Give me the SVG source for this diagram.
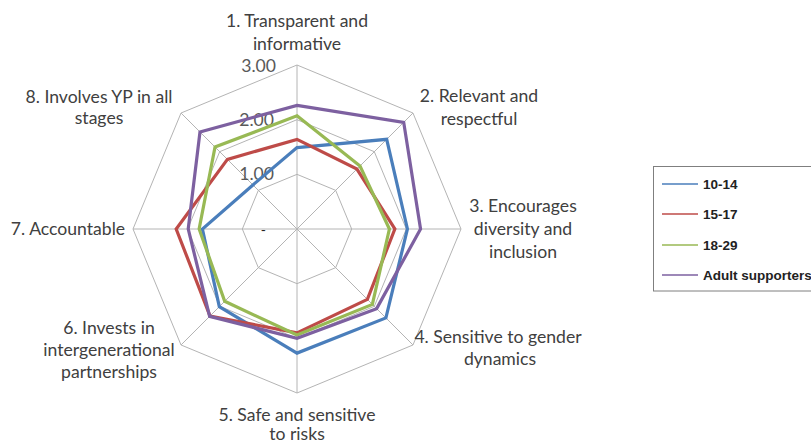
<svg xmlns="http://www.w3.org/2000/svg" width="811" height="444" viewBox="0 0 811 444">
<style>
.grid{fill:none;stroke:#b4b4b4;stroke-width:1}
.ser{fill:none;stroke-width:3.2;stroke-linejoin:miter}
.lab{font-family:Lato,"Liberation Sans",sans-serif;font-size:17.6px;fill:#404040;text-anchor:middle}
.tick{font-family:Lato,"Liberation Sans",sans-serif;font-size:17.6px;fill:#595959;text-anchor:end}
.leg{font-family:"Liberation Sans",Arial,sans-serif;font-size:13.5px;font-weight:bold;fill:#222}
.legl{stroke-width:1.5}
</style>
<rect width="811" height="444" fill="#fff"/>
<g id="grid">
<polygon class="grid" points="297,174.33 335.66,190.34 351.67,229 335.66,267.66 297,283.67 258.34,267.66 242.33,229 258.34,190.34"/>
<polygon class="grid" points="297,119.67 374.31,151.69 406.33,229 374.31,306.31 297,338.33 219.69,306.31 187.67,229 219.69,151.69"/>
<polygon class="grid" points="297,65 412.97,113.03 461,229 412.97,344.97 297,393 181.03,344.97 133,229 181.03,113.03"/>
<path class="grid" d="M297,229L297,65M297,229L412.97,113.03M297,229L461,229M297,229L412.97,344.97M297,229L297,393M297,229L181.03,344.97M297,229L133,229M297,229L181.03,113.03"/>
</g>
<g id="ticks">
<text class="tick" x="276" y="72">3.00</text>
<text class="tick" x="274" y="126">2.00</text>
<text class="tick" x="274" y="180">1.00</text>
<text class="tick" x="266" y="235" style="font-size:14px;fill:#222">-</text>
</g>
<g id="series">
<polygon id="s-10-14" class="ser" stroke="#4a7ebb" points="297,147.54 386.68,139.32 407.43,229 385.91,317.91 297,353.1 219.3,306.7 202.42,229 252.93,184.93"/>
<polygon id="s-15-17" class="ser" stroke="#be4b48" points="297,139.34 356.92,169.08 394.86,229 367.36,299.36 297,332.87 210.02,315.98 176.18,229 227.42,159.42"/>
<polygon id="s-18-29" class="ser" stroke="#98b954" points="297,115.83 360.01,165.99 389.39,229 372.38,304.38 297,335.06 224.71,301.29 199.14,229 215.04,147.04"/>
<polygon id="s-adult" class="ser" stroke="#7d60a0" points="297,105.45 403.7,122.3 420.55,229 376.63,308.63 297,338.34 209.64,316.36 188.21,229 199.97,131.97"/>
</g>
<g id="labels">
<text id="ax1" class="lab" x="297" y="27">1. Transparent and<tspan x="297" y="50">informative</tspan></text>
<text id="ax2" class="lab" x="479" y="102">2. Relevant and<tspan x="479" y="125">respectful</tspan></text>
<text id="ax3" class="lab" x="523" y="212">3. Encourages<tspan x="523" y="235">diversity and</tspan><tspan x="523" y="258">inclusion</tspan></text>
<text id="ax4" class="lab" x="498" y="343">4. Sensitive to gender<tspan x="500" y="365">dynamics</tspan></text>
<text id="ax5" class="lab" x="297" y="421">5. Safe and sensitive<tspan x="297" y="440">to risks</tspan></text>
<text id="ax6" class="lab" x="109" y="334">6. Invests in<tspan x="109" y="356">intergenerational</tspan><tspan x="109" y="378">partnerships</tspan></text>
<text id="ax7" class="lab" x="68" y="235">7. Accountable</text>
<text id="ax8" class="lab" x="99" y="103">8. Involves YP in all<tspan x="99" y="124">stages</tspan></text>
</g>
<g id="legend">
<rect x="653.5" y="166.5" width="170" height="124.5" fill="#fff" stroke="#7f7f7f" stroke-width="1"/>
<line class="legl" x1="662" y1="184" x2="698" y2="184" stroke="#4a7ebb"/>
<text class="leg" x="703" y="189">10-14</text>
<line class="legl" x1="662" y1="214" x2="698" y2="214" stroke="#be4b48"/>
<text class="leg" x="703" y="219">15-17</text>
<line class="legl" x1="662" y1="245" x2="698" y2="245" stroke="#98b954"/>
<text class="leg" x="703" y="250">18-29</text>
<line class="legl" x1="662" y1="275" x2="698" y2="275" stroke="#7d60a0"/>
<text class="leg" x="703" y="280">Adult supporters</text>
</g>
</svg>
